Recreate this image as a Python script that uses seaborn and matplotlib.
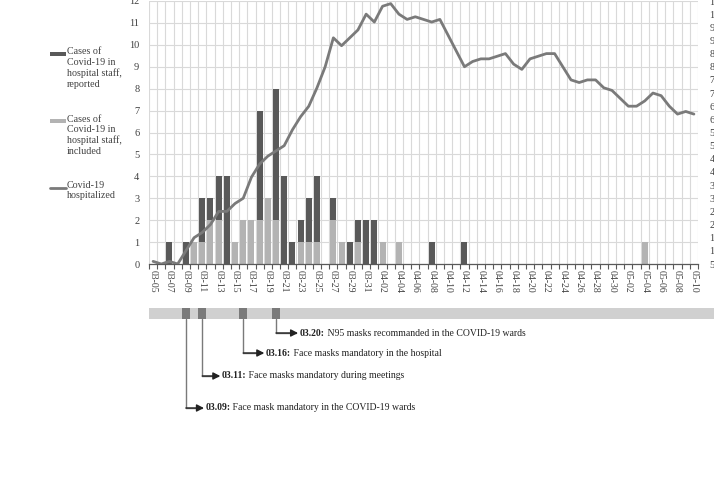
import numpy as np
import pandas as pd
import matplotlib
matplotlib.use("Agg")
import matplotlib.pyplot as plt
from matplotlib.patches import Rectangle
from matplotlib.lines import Line2D
import seaborn as sns

# ---------------- data ----------------
dates = pd.date_range("2020-03-05", "2020-05-10", freq="D").strftime("%m-%d").tolist()

# staff cases, included (light segment, bottom)
included = [0, 0, 0, 0, 0, 1, 1, 2, 2, 0,
            1, 2, 2, 2, 3, 2, 0, 0, 1, 1,
            1, 0, 2, 1, 0, 1, 0, 0, 1, 0,
            1, 0, 0, 0, 0, 0, 0, 0, 0, 0,
            0, 0, 0, 0, 0, 0, 0, 0, 0, 0,
            0, 0, 0, 0, 0, 0, 0, 0, 0, 0,
            1, 0, 0, 0, 0, 0, 0]
# staff cases, reported (dark segment, stacked on top)
reported = [0, 0, 1, 0, 1, 0, 2, 1, 2, 4,
            0, 0, 0, 5, 0, 6, 4, 1, 1, 2,
            3, 0, 1, 0, 1, 1, 2, 2, 0, 0,
            0, 0, 0, 0, 1, 0, 0, 0, 1, 0,
            0, 0, 0, 0, 0, 0, 0, 0, 0, 0,
            0, 0, 0, 0, 0, 0, 0, 0, 0, 0,
            0, 0, 0, 0, 0, 0, 0]
# Covid-19 hospitalized (right axis)
hospitalized = [6, 5, 6, 5, 10, 15, 17, 20, 25, 25,
                28, 30, 38, 43, 46, 48, 50, 56, 61, 65,
                72, 80, 91, 88, 91, 94, 100, 97, 103, 104,
                100, 98, 99, 98, 97, 98, 92, 86, 80, 82,
                83, 83, 84, 85, 81, 79, 83, 84, 85, 85,
                80, 75, 74, 75, 75, 72, 71, 68, 65, 65,
                67, 70, 69, 65, 62, 63, 62]

event_dates = ["03-09", "03-11", "03-16", "03-20"]
event_heads = ["03.09:", "03.11:", "03.16:", "03.20:"]
event_texts = [" Face mask mandatory in the COVID-19 wards",
               " Face masks mandatory during meetings",
               " Face masks mandatory in the hospital",
               " N95 masks recommanded in the COVID-19 wards"]

# ---------------- style ----------------
DARK = "#595959"
LIGHT = "#b3b3b3"
LINE = "#7a7a7a"
GRID = "#d9d9d9"
TXT = "#404040"
TLBAR = "#d0d0d0"
TLMARK = "#7a7a7a"

sns.set_theme(style="white")
plt.rcParams["font.family"] = ["Liberation Serif", "DejaVu Serif"]

W, H = 714, 479
fig = plt.figure(figsize=(W / 100, H / 100), dpi=100)

L, R, T, B = 149, 698, 1, 264
ax = fig.add_axes([L / W, 1 - B / H, (R - L) / W, (B - T) / H])

pos = np.arange(len(dates))
df = pd.DataFrame({"pos": pos, "date": dates,
                   "included": included, "reported": reported})
df["total"] = df["included"] + df["reported"]

sns.barplot(data=df, x="pos", y="total", native_scale=True, color=DARK,
            saturation=1, width=0.73, linewidth=0, ax=ax)
sns.barplot(data=df, x="pos", y="included", native_scale=True, color=LIGHT,
            saturation=1, width=0.73, linewidth=0, ax=ax)

ax2 = ax.twinx()
sns.lineplot(x=pos, y=hospitalized, color=LINE, linewidth=2, ax=ax2)

ax.set_xlim(-0.5, len(dates) - 0.5)
ax.set_ylim(0, 12)
ax.set_yticks(range(0, 13))
ax.set_xticks(pos[::2])
ax.set_xticklabels(dates[::2], rotation=270, ha="center", va="top")
ax.set_xticks(np.arange(-0.5, len(dates), 1), minor=True)
ax.grid(False)
ax.grid(True, which="minor", axis="x", color=GRID, linewidth=0.8)
ax.grid(True, which="major", axis="y", color=GRID, linewidth=0.8)
ax.set_axisbelow(True)
ax.tick_params(axis="x", which="major", bottom=True, length=0, pad=4,
               labelsize=7, labelcolor=TXT)
ax.tick_params(axis="x", which="minor", bottom=True, length=3.5, width=0.8,
               color=DARK, direction="out")
ax.tick_params(axis="y", left=False, length=0, pad=7, labelsize=7.5,
               labelcolor=TXT)
for s in ["top", "right", "left"]:
    ax.spines[s].set_visible(False)
ax.spines["bottom"].set_color(DARK)
ax.spines["bottom"].set_linewidth(0.9)
ax.set_xlabel("")
ax.set_ylabel("")

ax2.set_ylim(5, 105)
ax2.set_yticks(range(5, 106, 5))
ax2.tick_params(axis="y", right=True, length=0, pad=8.3, labelsize=7.5,
                labelcolor=TXT)
for s in ax2.spines.values():
    s.set_visible(False)
ax2.grid(False)
ax2.set_ylabel("")
ax2.set_xlim(-0.5, len(dates) - 0.5)

# ---------------- legend (left side) ----------------
def fig_xy(px, py):
    return px / W, 1 - py / H

leg_items = [
    ("patch", DARK, 54, "Cases of\nCovid-19 in\nhospital staff,\nreported"),
    ("patch", LIGHT, 121, "Cases of\nCovid-19 in\nhospital staff,\nincluded"),
    ("line", LINE, 187.5, "Covid-19\nhospitalized"),
]
for kind, col, py, lab in leg_items:
    if kind == "patch":
        x0, y0 = fig_xy(50, py + 2)
        fig.patches.append(Rectangle((x0, y0), 16 / W, 4 / H, color=col,
                                     transform=fig.transFigure, lw=0))
    else:
        x0, y0 = fig_xy(50, py)
        x1, _ = fig_xy(66, py)
        fig.lines.append(Line2D([x0, x1], [y0, y0], color=col, lw=2,
                                transform=fig.transFigure))
    tx, ty = fig_xy(67, py - 6.5)
    fig.text(tx, ty, lab, fontsize=7.2, color=TXT, ha="left", va="top",
             linespacing=1.2)

# ---------------- timeline ----------------
TL_TOP, TL_BOT = 300, 420
tl = fig.add_axes([L / W, 1 - TL_BOT / H, (R - L) / W, (TL_BOT - TL_TOP) / H])
tl.set_xlim(-0.5, len(dates) - 0.5)
tl.set_ylim(TL_BOT, TL_TOP)
tl.axis("off")
px_per_day = (R - L) / len(dates)

tl.add_patch(Rectangle((-0.5, 308), 90, 11, color=TLBAR, lw=0, clip_on=False))

rows = [408, 376, 353, 333]
tip_dx = [18, 18, 21, 22]
for d, head, txt, row, dxp in zip(event_dates, event_heads, event_texts, rows, tip_dx):
    i = dates.index(d)
    tl.add_patch(Rectangle((i - 0.46, 308), 0.92, 11, color=TLMARK, lw=0,
                           clip_on=False))
    tl.plot([i, i], [319, row], color=LINE, lw=1, clip_on=False)
    xe = i + dxp / px_per_day
    tl.annotate("", xy=(xe, row), xytext=(i, row),
                arrowprops=dict(arrowstyle="-|>,head_length=0.35,head_width=0.18",
                                color="#222222", lw=1, shrinkA=0, shrinkB=0),
                annotation_clip=False)
    tl.plot([i, xe - 2 / px_per_day], [row, row], color=LINE, lw=1, clip_on=False)
    t1 = tl.text(xe + 1.5 / px_per_day, row, head, fontsize=7, fontweight="bold",
                 color="#222222", ha="left", va="center", clip_on=False)
    tl.annotate(txt, xy=(1, 0.5), xycoords=t1, fontsize=7, color="#222222",
                ha="left", va="center", annotation_clip=False)

fig.savefig("out.png", dpi=100)
